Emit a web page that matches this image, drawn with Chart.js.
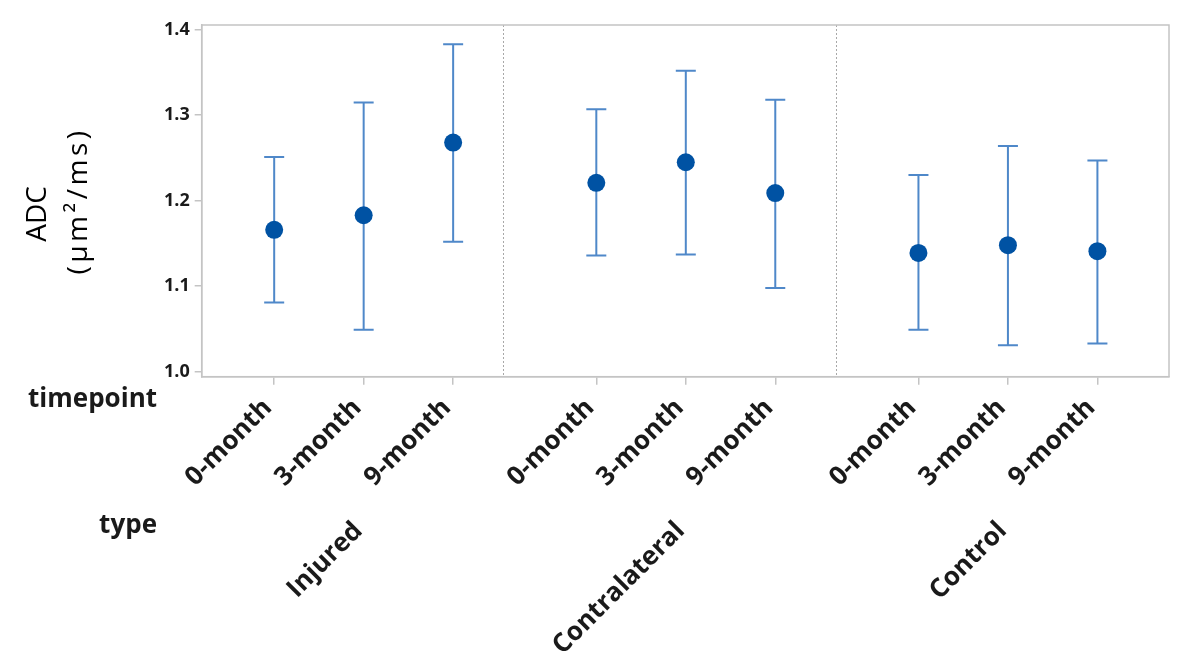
<!DOCTYPE html>
<html>
<head>
<meta charset="utf-8">
<script src="https://cdn.jsdelivr.net/npm/chart.js@4.4.1/dist/chart.umd.min.js"></script>
<style>
  html, body { margin: 0; padding: 0; background: #ffffff; }
  #wrap { width: 1182px; height: 663px; position: relative; }
</style>
</head>
<body>
<div id="wrap"><canvas id="c" width="1182" height="663"></canvas></div>
<script>
// ---- data ----
const types = ['Injured', 'Contralateral', 'Control'];
const timepoints = ['0-month', '3-month', '9-month'];
const means = [1.166, 1.183, 1.268, 1.221, 1.245, 1.209, 1.139, 1.148, 1.141];
const upper = [1.251, 1.315, 1.383, 1.307, 1.352, 1.318, 1.230, 1.264, 1.247];
const lower = [1.081, 1.049, 1.152, 1.136, 1.137, 1.098, 1.049, 1.031, 1.033];
const yTicks = [1.0, 1.1, 1.2, 1.3, 1.4];
const yTitle = ['ADC', '(\u00b5m\u00b2/ms)'];
const rowTitles = ['timepoint', 'type'];

// ---- layout ----
const GROUP_STEP = 3.6;
const SEP_POS = [2.56, 6.28];
const FONT = "'Open Sans', 'Noto Sans', sans-serif";
const MARK = '#0052a3';
const BAR = '#4f88c9';

function xPos(k) {
  const g = Math.floor(k / timepoints.length);
  const i = k % timepoints.length;
  return g * GROUP_STEP + i;
}
const points = means.map((m, k) => ({ x: xPos(k), y: m }));

const customDraw = {
  id: 'customDraw',
  beforeDatasetsDraw(chart) {
    const { ctx, chartArea: a, scales: { x, y } } = chart;
    ctx.save();
    ctx.strokeStyle = '#a8a8a8';
    ctx.lineWidth = 1;
    ctx.setLineDash([2, 2]);
    SEP_POS.forEach(p => {
      const px = Math.round(x.getPixelForValue(p)) + 0.5;
      ctx.beginPath();
      ctx.moveTo(px, a.top);
      ctx.lineTo(px, a.bottom);
      ctx.stroke();
    });
    ctx.setLineDash([]);
    ctx.strokeStyle = BAR;
    ctx.lineWidth = 2;
    means.forEach((m, k) => {
      const px = x.getPixelForValue(xPos(k));
      const yu = y.getPixelForValue(upper[k]);
      const yl = y.getPixelForValue(lower[k]);
      ctx.beginPath();
      ctx.moveTo(px, yu); ctx.lineTo(px, yl);
      ctx.moveTo(px - 10, yu); ctx.lineTo(px + 10, yu);
      ctx.moveTo(px - 10, yl); ctx.lineTo(px + 10, yl);
      ctx.stroke();
    });
    ctx.restore();
  },
  afterDraw(chart) {
    const { ctx, chartArea: a, scales: { x, y } } = chart;
    ctx.save();
    ctx.strokeStyle = '#c4c4c4';
    ctx.lineWidth = 1.5;
    ctx.strokeRect(a.left, a.top, a.right - a.left, a.bottom - a.top);
    ctx.fillStyle = '#1a1a1a';
    ctx.textAlign = 'right';
    ctx.textBaseline = 'alphabetic';
    ctx.font = '700 26px ' + FONT;
    means.forEach((m, k) => {
      const px = x.getPixelForValue(xPos(k));
      ctx.save();
      ctx.translate(px - 1, 409);
      ctx.rotate(-Math.PI / 4);
      ctx.fillText(timepoints[k % timepoints.length], 0, 0);
      ctx.restore();
    });
    types.forEach((t, g) => {
      const px = x.getPixelForValue(g * GROUP_STEP + 1);
      ctx.save();
      ctx.translate(px, 532);
      ctx.rotate(-Math.PI / 4);
      ctx.fillText(t, 0, 0);
      ctx.restore();
    });
    ctx.font = '700 26px ' + FONT;
    ctx.textBaseline = 'middle';
    ctx.fillText(rowTitles[0], 157, 400);
    ctx.fillText(rowTitles[1], 157, 526);
    ctx.font = '400 28px ' + FONT;
    ctx.fillStyle = '#000';
    ctx.textAlign = 'center';
    ctx.save();
    ctx.translate(38, 214);
    ctx.rotate(-Math.PI / 2);
    ctx.fillText(yTitle[0], 0, 0);
    ctx.restore();
    ctx.save();
    ctx.translate(79, 201);
    ctx.rotate(-Math.PI / 2);
    ctx.letterSpacing = '3.5px';
    ctx.fillText(yTitle[1], 0, 0);
    ctx.restore();
    ctx.restore();
  }
};

new Chart(document.getElementById('c'), {
  type: 'scatter',
  data: {
    datasets: [{
      data: points,
      pointStyle: 'circle',
      pointRadius: 9,
      pointBackgroundColor: MARK,
      pointBorderColor: MARK,
      pointBorderWidth: 0,
      showLine: false
    }]
  },
  options: {
    responsive: false,
    animation: false,
    devicePixelRatio: 1,
    layout: { padding: { top: 25, right: 13, left: 0, bottom: 0 } },
    plugins: { legend: { display: false }, tooltip: { enabled: false } },
    scales: {
      x: {
        type: 'linear',
        min: -0.81,
        max: 10.0,
        afterBuildTicks: s => { s.ticks = means.map((m, k) => ({ value: xPos(k) })); },
        afterFit: s => { s.height = 286.3; },
        ticks: { display: false },
        grid: { drawOnChartArea: false, drawTicks: true, tickLength: 8, color: '#c4c4c4', lineWidth: 1.5 },
        border: { display: true, color: '#c4c4c4', width: 1.5 }
      },
      y: {
        type: 'linear',
        min: 0.9942,
        max: 1.4055,
        afterBuildTicks: s => { s.ticks = yTicks.map(v => ({ value: v })); },
        afterFit: s => { s.width = 201.7; },
        ticks: {
          callback: v => v.toFixed(1),
          font: { family: FONT, size: 18, weight: '700' },
          color: '#1a1a1a',
          padding: 5
        },
        grid: { drawOnChartArea: false, drawTicks: true, tickLength: 7, color: '#c4c4c4', lineWidth: 1.5 },
        border: { display: true, color: '#c4c4c4', width: 1.5 }
      }
    }
  },
  plugins: [customDraw]
});
</script>
</body>
</html>
